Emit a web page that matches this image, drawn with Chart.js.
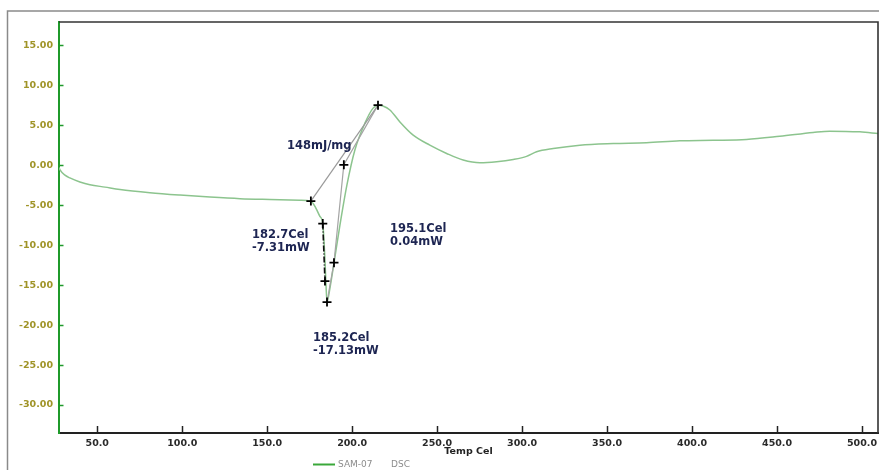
<!DOCTYPE html>
<html>
<head>
<meta charset="utf-8">
<script src="https://cdn.jsdelivr.net/npm/chart.js@4/dist/chart.umd.min.js"></script>
<style>
  html, body { margin: 0; padding: 0; background: #ffffff; }
  #wrap { position: relative; width: 879px; height: 470px; }
</style>
</head>
<body>
<div id="wrap"><canvas id="dsc" width="879" height="470"></canvas></div>
<script>
// DSC trace of sample SAM-07: temperature (Cel) vs heat flow (mW)
const tempC = [27.5, 28.1, 31.0, 33.9, 39.8, 45.7, 54.6, 63.4, 81.0, 98.7, 116.3, 134.0, 151.6, 169.3,
  175.7, 178.7, 181.0, 182.7, 184.0, 184.6, 185.2, 186.9, 189.3, 192.8, 196.9, 201.6, 207.5, 212.2,
  215.2, 218.1, 222.2, 228.1, 235.9, 245.7, 255.6, 265.3, 275.2, 285.0, 294.8, 302.6, 308.5, 318.3,
  334.0, 353.6, 373.2, 392.8, 412.4, 432.0, 451.6, 471.2, 481.0, 498.7, 509.4];
const heatFlow = [-0.3, -0.6, -1.25, -1.6, -2.1, -2.45, -2.75, -3.05, -3.45, -3.75, -4.0, -4.2, -4.3, -4.38,
  -4.5, -5.4, -6.4, -7.31, -11.9, -15.0, -17.13, -15.4, -12.25, -7.5, -2.5, 1.9, 5.25, 7.1,
  7.5, 7.4, 6.9, 5.4, 3.75, 2.5, 1.46, 0.63, 0.29, 0.42, 0.71, 1.1, 1.67, 2.08,
  2.5, 2.7, 2.8, 3.04, 3.1, 3.2, 3.6, 4.08, 4.25, 4.16, 3.96];

// peak analysis: integration baseline and construction points
const baseT = [175.7, 215.2];
const baseV = [-4.5, 7.5];
const riseT = [185.2, 189.3, 195.1, 215.2];
const riseV = [-17.13, -12.2, 0.04, 7.5];
const onsetT = [182.7, 184.0];
const onsetV = [-7.31, -14.5];
const markT = [175.7, 182.7, 184.0, 185.2, 189.3, 195.1, 215.2];
const markV = [-4.5, -7.31, -14.5, -17.13, -12.2, 0.04, 7.5];

const xTicks = [50, 100, 150, 200, 250, 300, 350, 400, 450, 500];
const yTicks = [-30, -25, -20, -15, -10, -5, 0, 5, 10, 15];

const notes = [['148mJ/mg'], ['182.7Cel', '-7.31mW'], ['195.1Cel', '0.04mW'], ['185.2Cel', '-17.13mW']];
const seriesName = ['SAM-07', 'DSC'];
const xTitle = 'Temp Cel';

const pts = (xs, ys) => xs.map((x, i) => ({ x: x, y: ys[i] }));

const decor = {
  id: 'decor',
  beforeDraw(chart) {
    const c = chart.ctx;
    c.save();
    c.fillStyle = '#ffffff';
    c.fillRect(0, 0, chart.width, chart.height);
    // outer panel frame
    c.strokeStyle = '#8a8a8a';
    c.lineWidth = 1.5;
    c.beginPath();
    c.moveTo(7.5, chart.height + 2);
    c.lineTo(7.5, 11);
    c.lineTo(chart.width + 2, 11);
    c.stroke();
    c.restore();
  },
  afterDatasetsDraw(chart) {
    const c = chart.ctx;
    const a = chart.chartArea;
    const xs = chart.scales.x, ys = chart.scales.y;
    c.save();
    // top and right plot frame
    c.strokeStyle = '#333333';
    c.lineWidth = 1.6;
    c.beginPath();
    c.moveTo(a.left, a.top);
    c.lineTo(a.right, a.top);
    c.lineTo(a.right, a.bottom);
    c.stroke();
    // inward tick marks
    c.lineWidth = 1.5;
    c.strokeStyle = '#1f9a2a';
    ys.ticks.forEach(t => {
      const py = Math.round(ys.getPixelForValue(t.value)) + 0.5;
      c.beginPath(); c.moveTo(a.left, py); c.lineTo(a.left + 4.5, py); c.stroke();
    });
    c.strokeStyle = '#222222';
    xs.ticks.forEach(t => {
      const px = Math.round(xs.getPixelForValue(t.value)) + 0.5;
      c.beginPath(); c.moveTo(px, a.bottom); c.lineTo(px, a.bottom - 7); c.stroke();
    });
    // peak annotations
    c.fillStyle = '#1d2552';
    c.font = 'bold 11.5px "DejaVu Sans", Verdana, sans-serif';
    c.textAlign = 'left';
    c.textBaseline = 'middle';
    const at = chart.options.plugins.decor.noteAt;
    notes.forEach((lines, i) => {
      const px = xs.getPixelForValue(at[i][0]);
      const py = ys.getPixelForValue(at[i][1]);
      lines.forEach((s, k) => c.fillText(s, px, py + k * 13));
    });
    // axis title
    c.fillStyle = '#222222';
    c.font = 'bold 9.5px "DejaVu Sans", Verdana, sans-serif';
    c.textAlign = 'center';
    c.fillText(xTitle, (a.left + a.right) / 2, 452);
    // legend
    c.strokeStyle = '#3aa83a';
    c.lineWidth = 2;
    c.beginPath(); c.moveTo(313, 464.5); c.lineTo(335, 464.5); c.stroke();
    c.fillStyle = '#8c8c8c';
    c.font = '9px "DejaVu Sans", Verdana, sans-serif';
    c.textAlign = 'left';
    c.fillText(seriesName[0], 338, 465);
    c.fillText(seriesName[1], 391, 465);
    c.restore();
  }
};

new Chart(document.getElementById('dsc'), {
  type: 'line',
  data: {
    datasets: [
      {
        label: 'SAM-07 DSC',
        data: pts(tempC, heatFlow),
        borderColor: '#8cc48e',
        borderWidth: 1.5,
        pointRadius: 0,
        cubicInterpolationMode: 'monotone',
        order: 3
      },
      {
        label: 'baseline',
        data: pts(baseT, baseV),
        borderColor: '#9a9a9a',
        borderWidth: 1.2,
        pointRadius: 0,
        order: 2
      },
      {
        label: 'rise',
        data: pts(riseT, riseV),
        borderColor: '#a4a4a4',
        borderWidth: 1.2,
        pointRadius: 0,
        order: 2
      },
      {
        label: 'onset',
        data: pts(onsetT, onsetV),
        borderColor: '#111111',
        borderWidth: 1.6,
        borderDash: [6, 2, 1, 2],
        pointRadius: 0,
        order: 1
      },
      {
        label: 'points',
        data: pts(markT, markV),
        showLine: false,
        pointStyle: 'cross',
        pointRadius: 4.5,
        borderColor: '#000000',
        borderWidth: 1.8,
        order: 0
      }
    ]
  },
  options: {
    responsive: false,
    animation: false,
    devicePixelRatio: 1,
    layout: { autoPadding: false, padding: { left: 0, top: 22, right: 1, bottom: 0 } },
    plugins: {
      legend: { display: false },
      tooltip: { enabled: false },
      decor: { noteAt: [[161.6, 2.4], [141.0, -8.75], [222.2, -8.0], [176.9, -21.6]] }
    },
    scales: {
      x: {
        type: 'linear',
        min: 27.5,
        max: 509.4,
        afterFit(s) { s.height = 37; s.paddingLeft = 0; s.paddingRight = 0; },
        afterBuildTicks(s) { s.ticks = xTicks.map(v => ({ value: v })); },
        grid: { display: true, drawOnChartArea: false, drawTicks: false },
        border: { display: true, color: '#222222', width: 2 },
        ticks: {
          padding: 5,
          maxRotation: 0,
          autoSkip: false,
          color: '#2a2a2a',
          font: { family: '"DejaVu Sans", Verdana, sans-serif', size: 9.5, weight: 'bold' },
          callback: v => Number(v).toFixed(1)
        }
      },
      y: {
        type: 'linear',
        min: -33.5,
        max: 17.9,
        afterFit(s) { s.width = 59; s.paddingTop = 0; s.paddingBottom = 0; },
        afterBuildTicks(s) { s.ticks = yTicks.map(v => ({ value: v })); },
        grid: { display: true, drawOnChartArea: false, drawTicks: false },
        border: { display: true, color: '#1f9a2a', width: 2 },
        ticks: {
          padding: 6,
          autoSkip: false,
          color: '#a09428',
          font: { family: '"DejaVu Sans", Verdana, sans-serif', size: 9.5, weight: 'bold' },
          callback: v => Number(v).toFixed(2)
        }
      }
    }
  },
  plugins: [decor]
});
</script>
</body>
</html>
